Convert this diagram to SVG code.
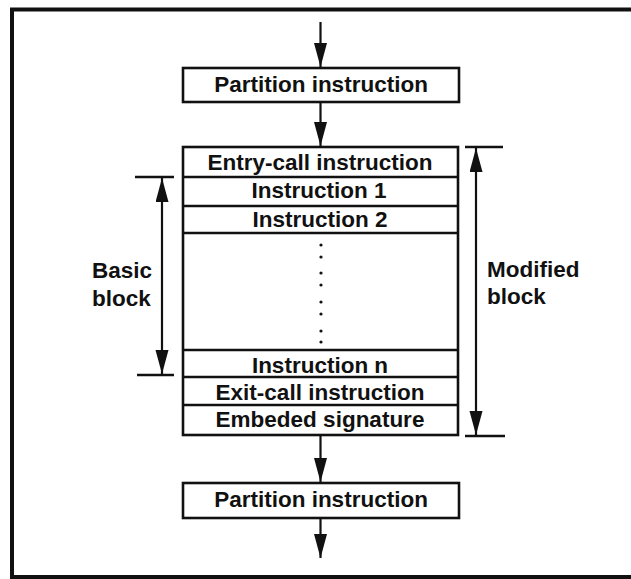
<svg xmlns="http://www.w3.org/2000/svg" width="631" height="579" viewBox="0 0 631 579">
<style>
.box{fill:#fff;stroke:#111;stroke-width:2.6}
.sep{stroke:#111;stroke-width:2.4}
.t{font-family:"Liberation Sans",Arial,sans-serif;font-weight:bold;font-size:22.5px;fill:#111}
.c{text-anchor:middle}
.ln{stroke:#111;stroke-width:2.2;fill:none}
.tick{stroke:#111;stroke-width:2.4}
</style>
<defs>
<marker id="ah" markerUnits="userSpaceOnUse" markerWidth="14" markerHeight="24" refX="12" refY="6" orient="auto">
<path d="M0,0 L12,6 L0,12 Z" fill="#111" transform="scale(1,1)"/>
</marker>
<marker id="big" markerUnits="userSpaceOnUse" markerWidth="26" markerHeight="14" refX="24" refY="6.5" orient="auto">
<path d="M0,0 L24,6.5 L0,13 Z" fill="#111"/>
</marker>
</defs>
<rect width="631" height="579" fill="#fff"/>
<path d="M640,9.5 L12,9.5 L12,577 L640,577" fill="none" stroke="#111" stroke-width="4"/>
<g id="connectors">
<line class="ln" x1="320.5" y1="22" x2="320.5" y2="67" marker-end="url(#big)"/>
<line class="ln" x1="320.5" y1="102" x2="320.5" y2="146" marker-end="url(#big)"/>
<line class="ln" x1="320.5" y1="435" x2="320.5" y2="482" marker-end="url(#big)"/>
<line class="ln" x1="320.5" y1="518" x2="320.5" y2="558" marker-end="url(#big)"/>
</g>
<g id="partition-top">
<rect class="box" x="183" y="68" width="276" height="34"/>
<text class="t c" x="321" y="92">Partition instruction</text>
</g>
<g id="modified-block">
<rect class="box" x="183" y="147" width="275" height="288"/>
<line class="sep" x1="183" y1="177" x2="458" y2="177"/>
<line class="sep" x1="183" y1="206" x2="458" y2="206"/>
<line class="sep" x1="183" y1="233" x2="458" y2="233"/>
<line class="sep" x1="183" y1="350" x2="458" y2="350"/>
<line class="sep" x1="183" y1="377" x2="458" y2="377"/>
<line class="sep" x1="183" y1="405" x2="458" y2="405"/>
<text class="t c" x="320" y="170">Entry-call instruction</text>
<text class="t c" x="319" y="198">Instruction 1</text>
<text class="t c" x="320" y="227">Instruction 2</text>
<g fill="#111">
<circle cx="321" cy="245" r="1.6"/><circle cx="321" cy="257" r="1.6"/>
<circle cx="321" cy="273" r="1.6"/><circle cx="321" cy="285" r="1.6"/>
<circle cx="321" cy="302" r="1.6"/><circle cx="321" cy="314" r="1.6"/>
<circle cx="321" cy="331" r="1.6"/><circle cx="321" cy="342" r="1.6"/>
</g>
<text class="t c" x="320" y="373">Instruction n</text>
<text class="t c" x="320" y="400">Exit-call instruction</text>
<text class="t c" x="320" y="427">Embeded signature</text>
</g>
<g id="partition-bottom">
<rect class="box" x="183" y="483" width="276" height="35"/>
<text class="t c" x="321" y="507">Partition instruction</text>
</g>
<g id="basic-block-dim">
<line class="tick" x1="135" y1="177" x2="174" y2="177"/>
<line class="tick" x1="137" y1="375" x2="174" y2="375"/>
<line class="ln" x1="162" y1="276" x2="162" y2="178" marker-end="url(#big)"/>
<line class="ln" x1="162" y1="276" x2="162" y2="374" marker-end="url(#big)"/>
<text class="t" x="92" y="278">Basic</text>
<text class="t" x="92" y="306">block</text>
</g>
<g id="modified-block-dim">
<line class="tick" x1="465" y1="147" x2="503" y2="147"/>
<line class="tick" x1="465" y1="436" x2="505" y2="436"/>
<line class="ln" x1="476" y1="290" x2="476" y2="148" marker-end="url(#big)"/>
<line class="ln" x1="476" y1="290" x2="476" y2="435" marker-end="url(#big)"/>
<text class="t" x="487" y="277">Modified</text>
<text class="t" x="487" y="304">block</text>
</g>
</svg>
